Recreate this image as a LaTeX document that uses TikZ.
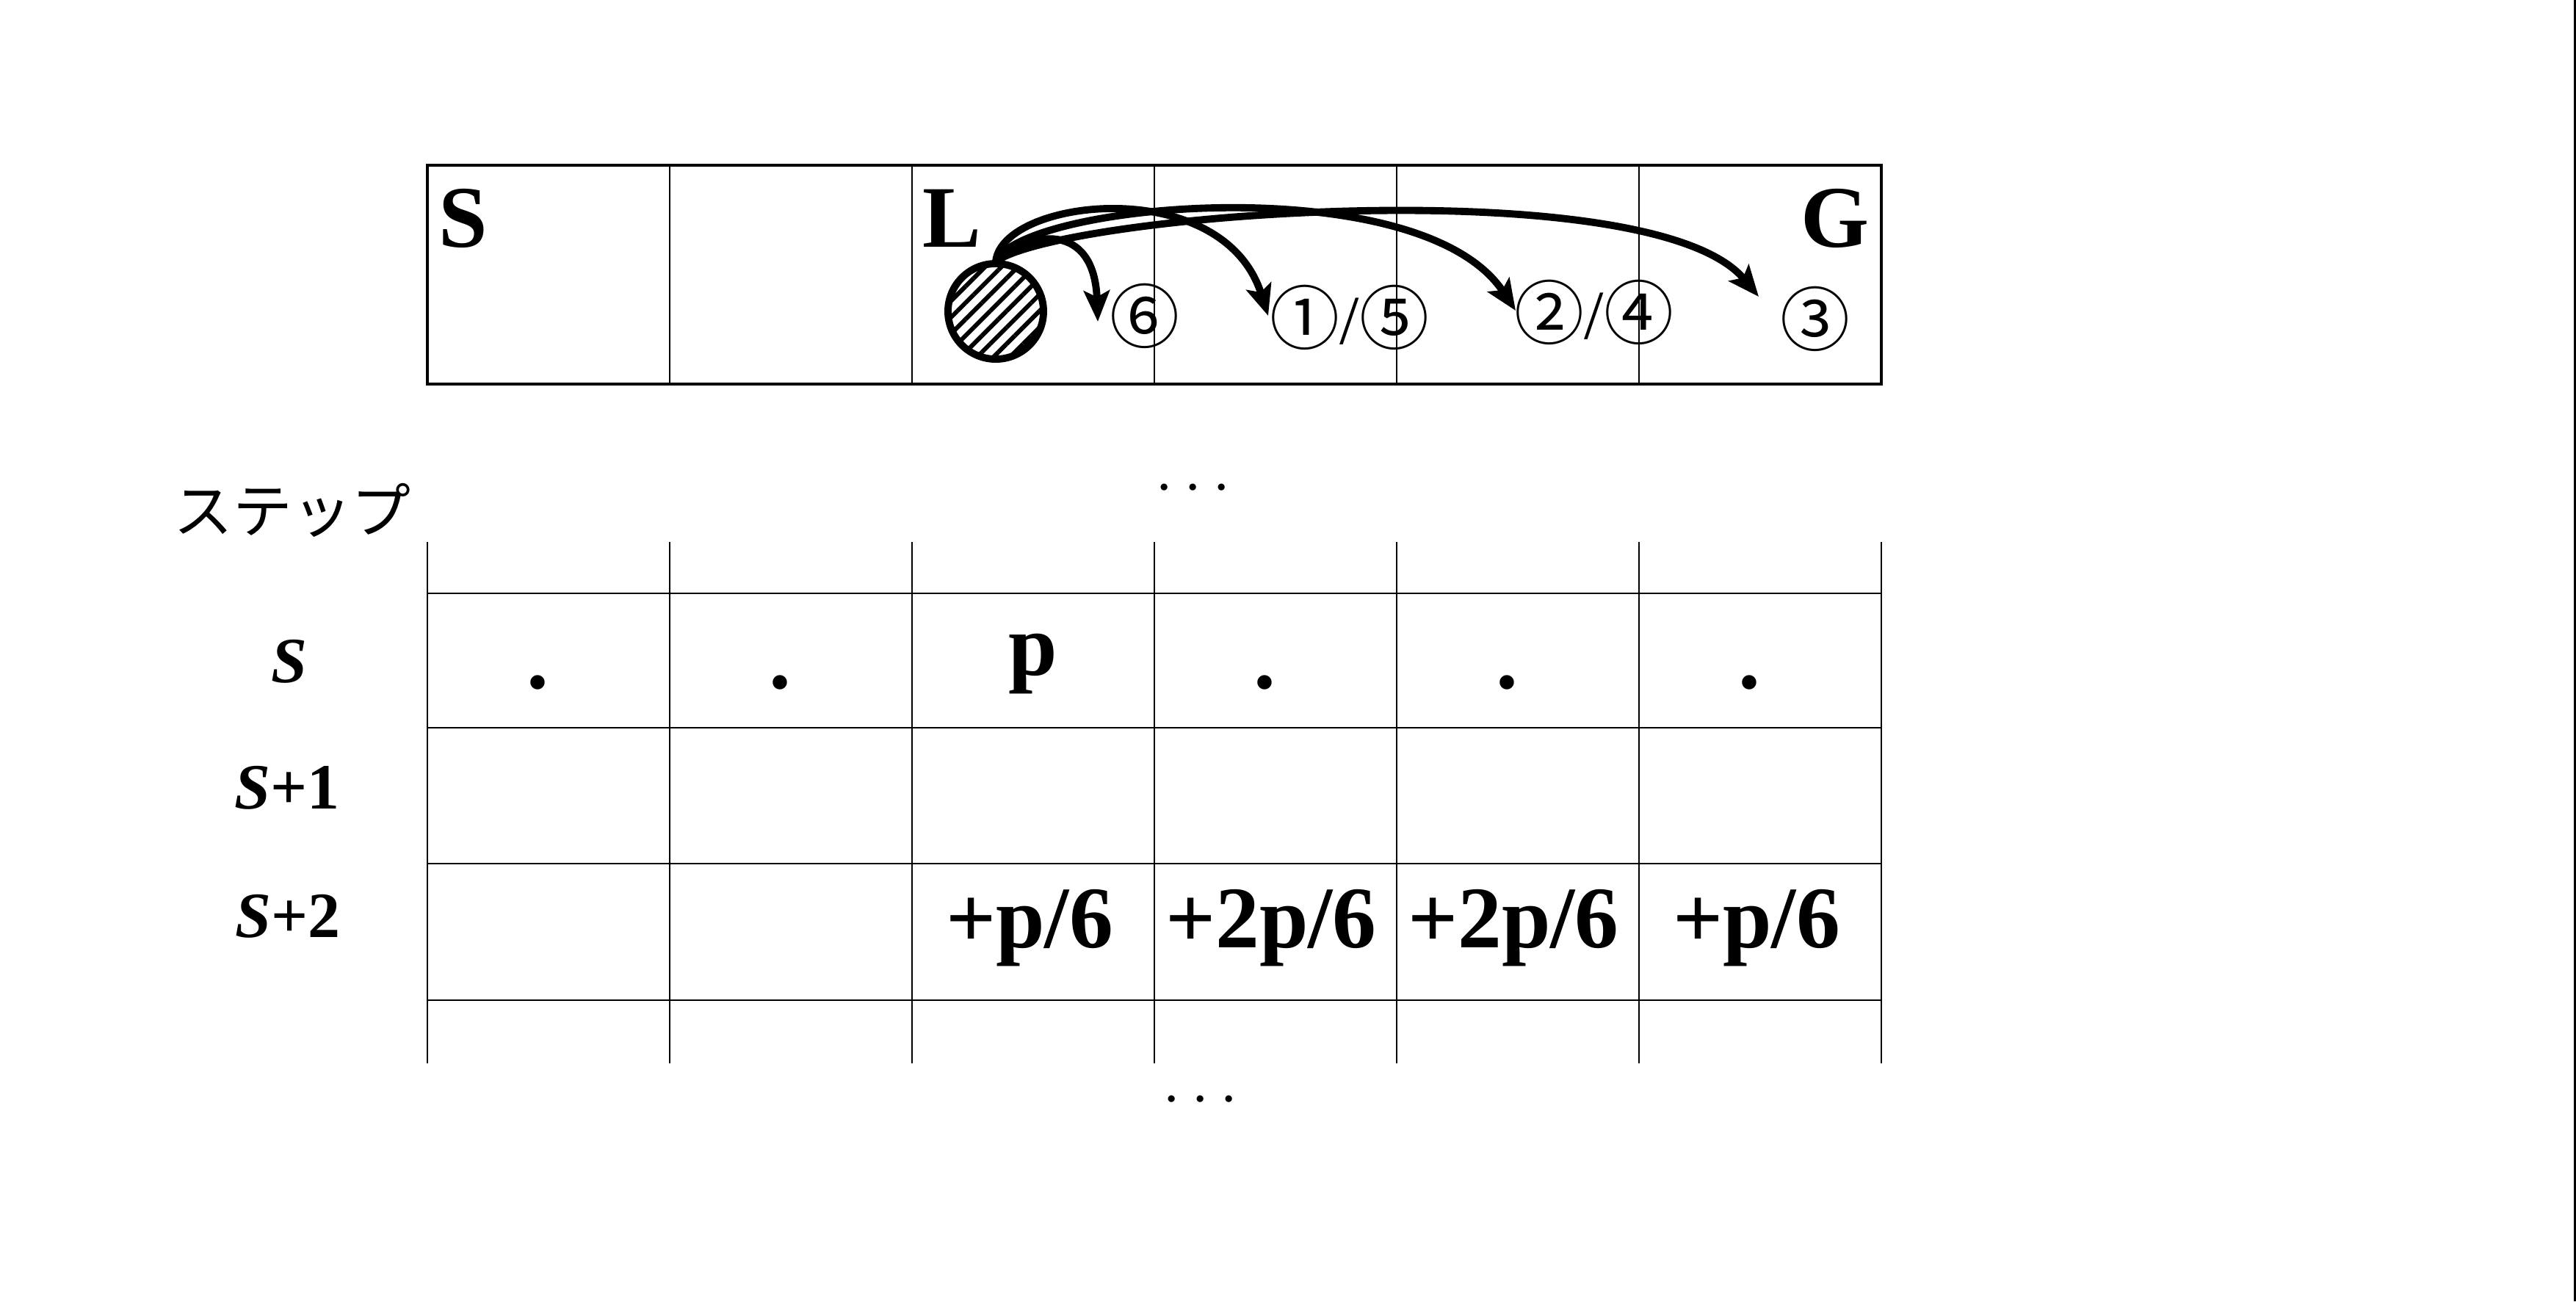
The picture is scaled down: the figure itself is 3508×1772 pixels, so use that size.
\documentclass[tikz,border=0pt]{standalone}
\usepackage{fontspec}
\setmainfont{Liberation Serif}
\newfontfamily\jpfont{Noto Sans CJK JP}
\usepackage{tikz}
\usetikzlibrary{arrows.meta, patterns.meta}

\newcommand{\movesep}{{\rmfamily/}}

\begin{document}
\begin{tikzpicture}[x=0.01cm, y=-0.01cm,
    grid/.style = {line width=0.7pt},
    frame/.style = {line width=0.9pt},
    celltext/.style = {font=\fontsize{34}{40}\selectfont\bfseries, inner sep=0pt},
    rowlabel/.style = {font=\fontsize{25}{30}\selectfont\bfseries, inner sep=0pt, anchor=base},
    marker/.style = {font=\jpfont\fontsize{27}{32}\selectfont, inner sep=0pt},
    jump/.style = {line width=2.8pt, -{Stealth[length=12pt, width=10pt, inset=2.5pt]}},
    ball/.style = {circle, draw, line width=2.8pt, inner sep=0pt, minimum size=1.3cm,
        pattern={Lines[angle=45, distance=4.5pt, line width=1.7pt]}}]
    \useasboundingbox (0,0) rectangle (3508,1772);

    % Track
    \draw [frame] (582,225) rectangle (2562,523);
    \foreach \i in {1,...,5}
        \draw [grid] (582+330*\i,225) -- (582+330*\i,523);
    \node [celltext, anchor=base west] (start) at (597,336) {S};
    \node [celltext, anchor=base west] (lake) at (1256,336) {L};
    \node [celltext, anchor=base east] (goal) at (2546,336) {G};

    % Ball and moves
    \node [ball] (ball) at (1356,424) {};
    \node [marker] (move6) at (1559,430) {⑥};
    \node [marker] (move15) at (1838,432) {①\movesep⑤};
    \node [marker] (move24) at (2171,425) {②\movesep④};
    \node [marker] (move3) at (2472,434) {③};
    \coordinate (tip6) at (1495,438);
    \coordinate (tip15) at (1727,430);
    \coordinate (tip24) at (2064,423);
    \coordinate (tip3) at (2395,404);

    \draw [jump] (ball.north) .. controls (1400,315) and (1490,300) .. (tip6);
    \draw [jump] (ball.north) .. controls (1365,270) and (1665,235) .. (tip15);
    \draw [jump] (ball.north) .. controls (1395,275) and (1935,228) .. (tip24);
    \draw [jump] (ball.north) .. controls (1450,290) and (2250,230) .. (tip3);

    % Steps table
    \node [font=\jpfont\fontsize{23}{28}\selectfont, inner sep=0pt] (steps) at (398,695) {ステップ};
    \node [font=\fontsize{27}{30}\selectfont, inner sep=0pt, anchor=base] (dotsup) at (1625,685) {$\cdots$};
    \node [font=\fontsize{27}{30}\selectfont, inner sep=0pt, anchor=base] (dotsdown) at (1635,1518) {$\cdots$};

    \foreach \i in {0,...,6}
        \draw [grid] (582+330*\i,738) -- (582+330*\i,1448);
    \foreach \y in {808,991,1176,1362}
        \draw [grid] (582,\y) -- (2562,\y);

    \node [rowlabel] (rowS) at (394,929) {\textit{S}};
    \node [rowlabel] (rowSa) at (391,1101) {\textit{S}+1};
    \node [rowlabel] (rowSb) at (392,1276) {\textit{S}+2};

    \foreach \i in {0,1,3,4,5}
        \node [celltext, anchor=base] (dot\i) at (732+330*\i,937) {.};
    \node [celltext, anchor=base] (prob) at (1407,919) {p};

    \node [celltext, anchor=base] (gain3) at (1402,1290) {+p/6};
    \node [celltext, anchor=base] (gain4) at (1731,1290) {+2p/6};
    \node [celltext, anchor=base] (gain5) at (2061,1290) {+2p/6};
    \node [celltext, anchor=base] (gain6) at (2392,1290) {+p/6};

    % page edge
    \draw [line width=0.85pt] (3506,0) -- (3506,1772);
\end{tikzpicture}
\end{document}
